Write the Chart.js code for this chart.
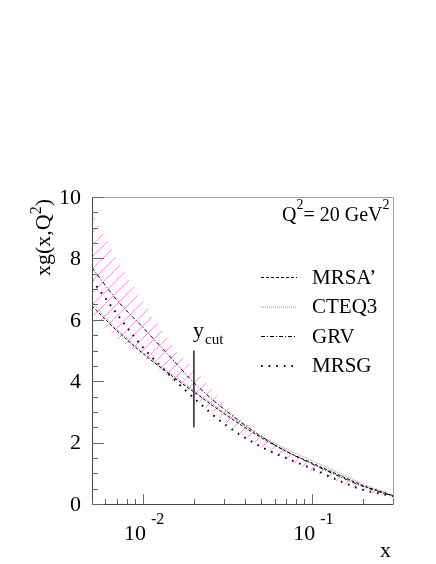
<!DOCTYPE html>
<html>
<head>
<meta charset="utf-8">
<script src="https://cdn.jsdelivr.net/npm/chart.js@4/dist/chart.umd.min.js"></script>
<style>
  html, body { margin: 0; padding: 0; background: #fff; }
  #wrap { width: 436px; height: 564px; }
</style>
</head>
<body>
<div id="wrap"><canvas id="gluonChart" width="436" height="564"></canvas></div>
<script>
// x grid of the curves (log scale)
const xValues = [0.005, 0.007, 0.01, 0.015, 0.02, 0.03, 0.05, 0.07, 0.1, 0.15, 0.2, 0.3];

// xg(x,Q^2) at Q^2 = 20 GeV^2
const mrsaValues = [6.45, 5.65, 4.9, 4.15, 3.65, 2.95, 2.16, 1.72, 1.33, 0.9, 0.6, 0.27];
const cteqValues = [6.55, 5.7, 4.95, 4.2, 3.7, 3.0, 2.22, 1.8, 1.41, 0.97, 0.64, 0.29];
const grvValues  = [7.7, 6.65, 5.75, 4.7, 3.95, 3.1, 2.2, 1.72, 1.3, 0.86, 0.57, 0.26];
const mrsgValues = [7.3, 6.2, 5.1, 4.1, 3.45, 2.62, 1.86, 1.5, 1.15, 0.72, 0.46, 0.26];

// hatched error band
const bandLow  = [6.2, 5.4, 4.8, 4.0, 3.45, 2.7, 1.85, 1.45, 1.05, 0.66, 0.42, 0.2];
const bandHigh = [9.5, 8.0, 6.6, 5.15, 4.4, 3.3, 2.25, 1.8, 1.38, 0.95, 0.64, 0.34];

// y_cut marker
const ycutX = [0.02, 0.02];
const ycutY = [2.5, 5.0];

// tick labels
const yTickLabels = [0, 2, 4, 6, 8, 10];
const xMajorTicks = [0.01, 0.1];
const xMajorExponents = ["-2", "-1"];

const legendNames = ["MRSA\u2019", "CTEQ3", "GRV", "MRSG"];

const SERIF = "'Liberation Serif', 'DejaVu Serif', serif";
const HATCH_COLOR = "rgba(255, 110, 255, 0.75)";

function points(xs, ys) {
    return xs.map((x, i) => ({ x: x, y: ys[i] }));
}

const lineStyles = [
    { color: "#000", dash: [3, 2], width: 1 },          // MRSA'
    { color: "#8c8c8c", dash: [1, 1], width: 1 },       // CTEQ3
    { color: "#000", dash: [4, 2, 1, 2], width: 1 },    // GRV
    { color: "#000", dash: [1.6, 6], width: 2 }         // MRSG
];

function curve(label, ys, style) {
    return {
        label: label,
        data: points(xValues, ys),
        borderColor: style.color,
        borderWidth: style.width,
        borderDash: style.dash,
        pointRadius: 0,
        fill: false,
        cubicInterpolationMode: "monotone"
    };
}

// hatching of the band: clip to the area between the two band datasets
const hatchBand = {
    id: "hatchBand",
    beforeDatasetsDraw(chart) {
        const low = chart.getDatasetMeta(0).data;
        const high = chart.getDatasetMeta(1).data;
        const a = chart.chartArea;
        const ctx = chart.ctx;
        ctx.save();
        ctx.beginPath();
        ctx.rect(a.left, a.top, a.right - a.left, a.bottom - a.top);
        ctx.clip();
        ctx.beginPath();
        // upper edge left to right, lower edge back (bezier control points from the library)
        ctx.moveTo(high[0].x, high[0].y);
        for (let i = 1; i < high.length; i++) {
            const p = high[i - 1], q = high[i];
            ctx.bezierCurveTo(p.cp2x, p.cp2y, q.cp1x, q.cp1y, q.x, q.y);
        }
        ctx.lineTo(low[low.length - 1].x, low[low.length - 1].y);
        for (let i = low.length - 2; i >= 0; i--) {
            const p = low[i + 1], q = low[i];
            ctx.bezierCurveTo(p.cp1x, p.cp1y, q.cp2x, q.cp2y, q.x, q.y);
        }
        ctx.closePath();
        ctx.clip();
        ctx.strokeStyle = HATCH_COLOR;
        ctx.lineWidth = 1;
        ctx.beginPath();
        const step = 12;
        for (let s = a.left - (a.bottom - a.top); s < a.right + 20; s += step) {
            ctx.moveTo(s, a.bottom);
            ctx.lineTo(s + (a.bottom - a.top), a.top);
        }
        ctx.stroke();
        ctx.restore();
    }
};

// frame, inward ticks, labels and legend
const decorations = {
    id: "decorations",
    afterDraw(chart) {
        const ctx = chart.ctx;
        const xs = chart.scales.x;
        const ys = chart.scales.y;
        const a = chart.chartArea;
        ctx.save();

        // frame
        ctx.lineWidth = 1;
        ctx.strokeStyle = "#a0a0a0";
        ctx.beginPath();
        ctx.moveTo(a.left, a.top + 0.5); ctx.lineTo(a.right + 0.5, a.top + 0.5);
        ctx.lineTo(a.right + 0.5, a.bottom);
        ctx.stroke();
        ctx.strokeStyle = "#444";
        ctx.beginPath();
        ctx.moveTo(a.left + 0.5, a.top); ctx.lineTo(a.left + 0.5, a.bottom + 0.5);
        ctx.lineTo(a.right + 0.5, a.bottom + 0.5);
        ctx.stroke();

        // y ticks every 0.5
        ctx.strokeStyle = "#666";
        ctx.beginPath();
        for (let v = 0; v <= 10.001; v += 0.5) {
            const py = Math.round(ys.getPixelForValue(v)) + 0.5;
            const len = (Math.abs(v % 2) < 0.01) ? 12 : 6;
            ctx.moveTo(a.left, py); ctx.lineTo(a.left + len, py);
        }
        // x ticks, log minor
        for (let e = -3; e <= -1; e++) {
            for (let m = 1; m <= 9; m++) {
                const v = m * Math.pow(10, e);
                if (v < 0.005 - 1e-9 || v > 0.3 + 1e-9) continue;
                const px = Math.round(xs.getPixelForValue(v)) + 0.5;
                const len = m === 1 ? 10 : 5;
                ctx.moveTo(px, a.bottom); ctx.lineTo(px, a.bottom - len);
            }
        }
        ctx.stroke();

        ctx.fillStyle = "#000";
        // y tick labels
        ctx.font = "22px " + SERIF;
        ctx.textAlign = "right";
        ctx.textBaseline = "middle";
        yTickLabels.forEach(v => {
            ctx.fillText(String(v), a.left - 11, ys.getPixelForValue(v) + 1);
        });

        // x tick labels 10^n
        xMajorTicks.forEach((v, i) => {
            const px = xs.getPixelForValue(v);
            ctx.font = "22px " + SERIF;
            ctx.textAlign = "right";
            ctx.textBaseline = "alphabetic";
            ctx.fillText("10", px + 3, 540);
            ctx.font = "16px " + SERIF;
            ctx.textAlign = "left";
            ctx.fillText(xMajorExponents[i], px + 8, 524);
        });

        // axis titles
        ctx.font = "22px " + SERIF;
        ctx.textAlign = "right";
        ctx.fillText("x", a.right - 2, 557);

        ctx.save();
        ctx.translate(50, a.top);
        ctx.rotate(-Math.PI / 2);
        ctx.textAlign = "left";
        ctx.font = "16px " + SERIF;
        const supW = ctx.measureText("2").width;
        ctx.font = "22px " + SERIF;
        const w1 = ctx.measureText("xg(x,Q").width;
        const w2 = ctx.measureText(")").width;
        const total = w1 + supW + w2;
        let tx = -total - 2;
        ctx.fillText("xg(x,Q", tx, 0);
        ctx.font = "16px " + SERIF;
        ctx.fillText("2", tx + w1, -9);
        ctx.font = "22px " + SERIF;
        ctx.fillText(")", tx + w1 + supW, 0);
        ctx.restore();

        // Q^2 = 20 GeV^2
        ctx.textAlign = "left";
        ctx.textBaseline = "alphabetic";
        let qx = 282;
        ctx.font = "20px " + SERIF;
        ctx.fillText("Q", qx, 221); qx += ctx.measureText("Q").width;
        ctx.font = "14px " + SERIF;
        ctx.fillText("2", qx, 209); qx += ctx.measureText("2").width;
        ctx.font = "20px " + SERIF;
        ctx.fillText("= 20 GeV", qx, 221); qx += ctx.measureText("= 20 GeV").width;
        ctx.font = "14px " + SERIF;
        ctx.fillText("2", qx, 209);

        // y_cut label
        ctx.font = "22px " + SERIF;
        ctx.fillText("y", 193, 337);
        ctx.font = "15px " + SERIF;
        ctx.fillText("cut", 205, 344);

        // legend
        legendNames.forEach((name, i) => {
            const ly = 277 + i * 29.5;
            const st = lineStyles[i];
            ctx.save();
            ctx.strokeStyle = st.color;
            ctx.lineWidth = st.width;
            ctx.setLineDash(st.dash);
            ctx.beginPath();
            ctx.moveTo(261, ly + 0.5); ctx.lineTo(297, ly + 0.5);
            ctx.stroke();
            ctx.restore();
            ctx.font = "21px " + SERIF;
            ctx.textAlign = "left";
            ctx.textBaseline = "middle";
            ctx.fillText(name, 312, ly + 1);
        });

        ctx.restore();
    }
};

const ctx = document.getElementById("gluonChart").getContext("2d");

new Chart(ctx, {
    type: "line",
    data: {
        datasets: [
            {
                label: "band low",
                data: points(xValues, bandLow),
                borderWidth: 0,
                borderColor: "rgba(0,0,0,0)",
                pointRadius: 0,
                fill: false,
                cubicInterpolationMode: "monotone"
            },
            {
                label: "band high",
                data: points(xValues, bandHigh),
                borderWidth: 0,
                borderColor: "rgba(0,0,0,0)",
                pointRadius: 0,
                fill: false,
                cubicInterpolationMode: "monotone"
            },
            curve(legendNames[0], mrsaValues, lineStyles[0]),
            curve(legendNames[1], cteqValues, lineStyles[1]),
            curve(legendNames[2], grvValues, lineStyles[2]),
            curve(legendNames[3], mrsgValues, lineStyles[3]),
            {
                label: "ycut",
                data: points(ycutX, ycutY),
                borderColor: "#000",
                borderWidth: 1.3,
                pointRadius: 0,
                fill: false
            }
        ]
    },
    options: {
        responsive: false,
        animation: false,
        layout: { padding: { left: 92, right: 43, top: 197, bottom: 60 } },
        plugins: {
            legend: { display: false },
            tooltip: { enabled: false }
        },
        scales: {
            x: { type: "logarithmic", min: 0.005, max: 0.3, display: false },
            y: { type: "linear", min: 0, max: 10, display: false }
        }
    },
    plugins: [hatchBand, decorations]
});
</script>
</body>
</html>
